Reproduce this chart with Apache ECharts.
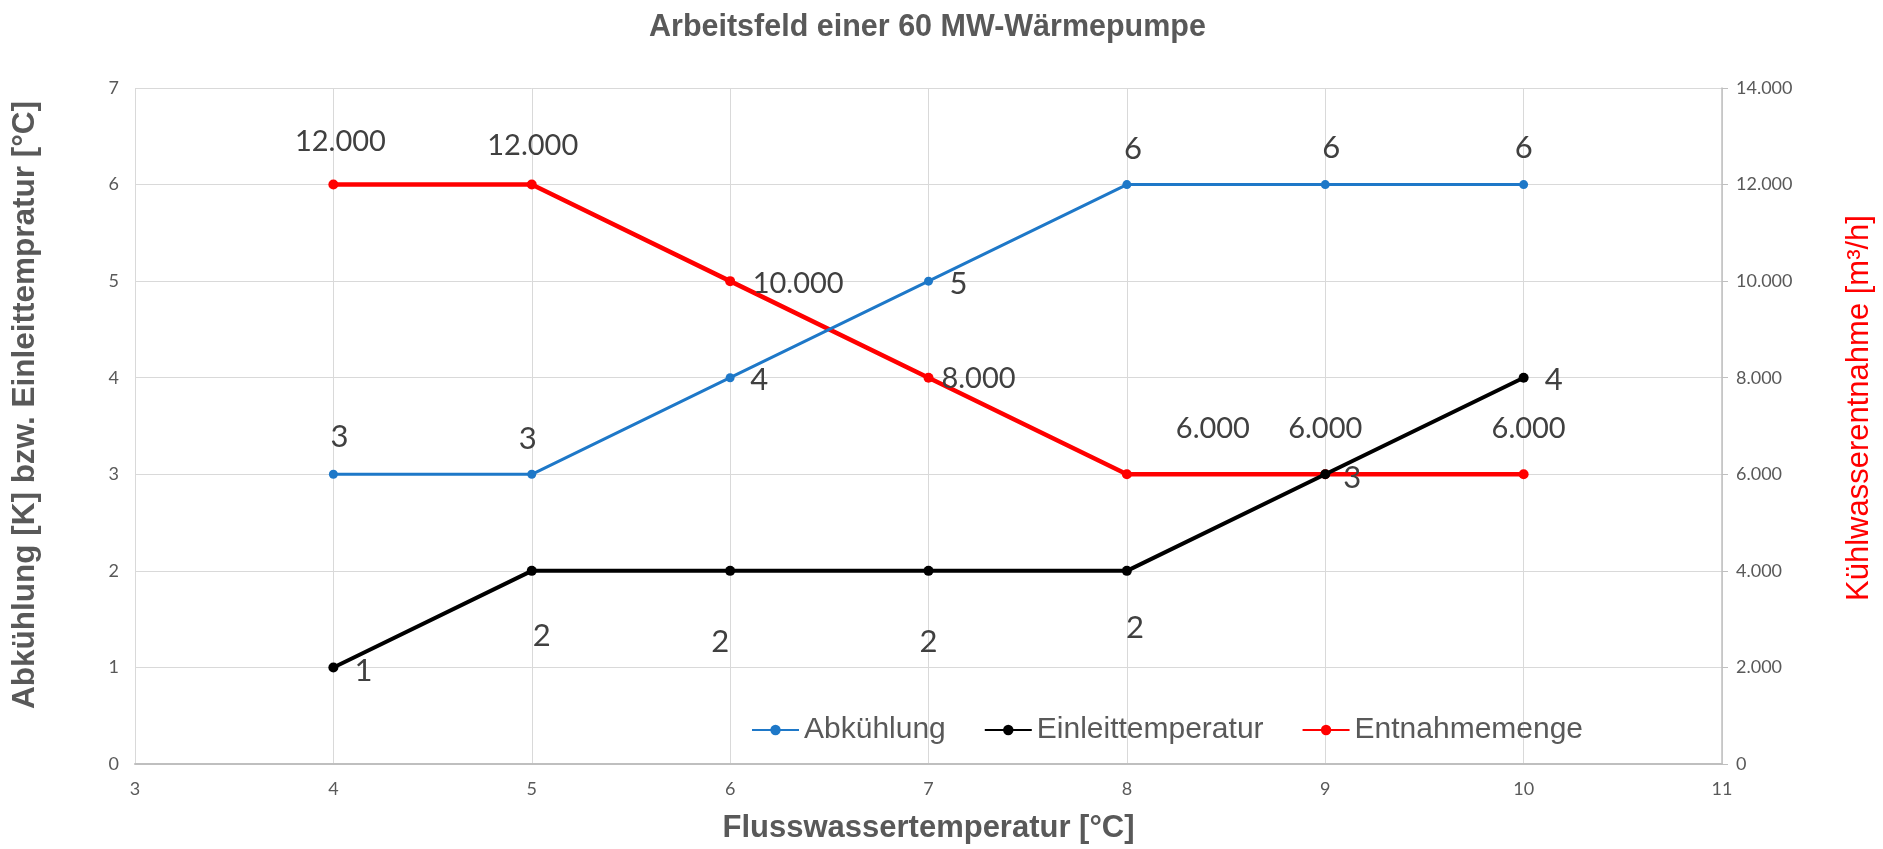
<!DOCTYPE html>
<html>
<head>
<meta charset="utf-8">
<script src="https://cdn.jsdelivr.net/npm/echarts@6/dist/echarts.min.js"></script>
<style>html,body{margin:0;padding:0;background:#fff}#c{width:1883px;height:849px}</style>
</head>
<body>
<div id="c"></div>
<script>
// ---- data ----
const flussTemp = [4, 5, 6, 7, 8, 9, 10];
const abkuehlung = [3, 3, 4, 5, 6, 6, 6];
const einleittemperatur = [1, 2, 2, 2, 2, 3, 4];
const entnahmemenge = [12000, 12000, 10000, 8000, 6000, 6000, 6000];
const seriesNames = ['Abkühlung', 'Einleittemperatur', 'Entnahmemenge'];

// ---- label placement (styling) ----
const offBlue = [[6,-37],[-4,-35],[29,2],[30,3],[6,-36],[6,-37],[0,-37]];
const offBlack = [[30,4],[10,65],[-10,71],[0,71],[8,57],[27,4],[30,2]];
const offRed = [[7,-43],[1,-39],[68,2],[50,1],[86,-46],[0,-46],[5,-46]];

function fmtDE(v){
  return String(v).replace(/\B(?=(\d{3})+(?!\d))/g, '.');
}
function build(ys, offs){
  return flussTemp.map((x, i) => ({
    value: [x, ys[i]],
    label: { offset: offs[i] }
  }));
}
const labelBase = {
  show: true, position: 'inside', fontFamily: 'Lato', fontSize: 31, color: '#404040'
};

const chart = echarts.init(document.getElementById('c'), null, {renderer: 'canvas'});
chart.setOption({
  backgroundColor: '#fff',
  animation: false,
  title: {
    text: 'Arbeitsfeld einer 60 MW-Wärmepumpe',
    left: 644, top: 7,
    textStyle: { fontFamily: 'Liberation Sans', fontWeight: 'bold', fontSize: 30.5, color: '#595959' }
  },
  legend: {
    left: 746, top: 710,
    itemWidth: 47, itemHeight: 13, itemGap: 38,
    textStyle: { fontFamily: 'Liberation Sans', fontSize: 30, color: '#595959' },
    data: seriesNames
  },
  grid: { left: 135, right: 161, top: 88, bottom: 84 },
  xAxis: {
    type: 'value', min: 3, max: 11, interval: 1,
    name: 'Flusswassertemperatur [°C]', nameLocation: 'middle', nameGap: 49,
    nameTextStyle: { fontFamily: 'Liberation Sans', fontWeight: 'bold', fontSize: 31, color: '#595959' },
    axisLine: { show: true, lineStyle: { color: '#bfbfbf', width: 2 } },
    axisTick: { show: false },
    axisLabel: { fontFamily: 'Lato', fontSize: 18, color: '#595959', margin: 16 },
    splitLine: { show: true, lineStyle: { color: '#d9d9d9', width: 1 } }
  },
  yAxis: [
    {
      type: 'value', min: 0, max: 7, interval: 1, position: 'left',
      name: 'Abkühlung [K] bzw. Einleittempratur [°C]', nameLocation: 'middle', nameGap: 94,
      nameTextStyle: { fontFamily: 'Liberation Sans', fontWeight: 'bold', fontSize: 31.5, color: '#595959', padding: [0, 0, 0, 42] },
      axisLine: { show: false }, axisTick: { show: false },
      axisLabel: { fontFamily: 'Lato', fontSize: 18, color: '#595959', margin: 16 },
      splitLine: { show: true, lineStyle: { color: '#d9d9d9', width: 1 } }
    },
    {
      type: 'value', min: 0, max: 14000, interval: 2000, position: 'right',
      name: 'Kühlwasserentnahme [m³/h]', nameLocation: 'middle', nameGap: 122, nameRotate: 90,
      nameTextStyle: { fontFamily: 'Liberation Sans', fontSize: 31, color: '#ff0000', padding: [0, 0, 0, 36] },
      axisLine: { show: true, lineStyle: { color: '#bfbfbf', width: 1.5 } },
      axisTick: { show: true, length: 6, lineStyle: { color: '#bfbfbf' } },
      axisLabel: { fontFamily: 'Lato', fontSize: 18, color: '#595959', margin: 14, formatter: fmtDE },
      splitLine: { show: false }
    }
  ],
  series: [
    {
      name: seriesNames[0], type: 'line', yAxisIndex: 0,
      data: build(abkuehlung, offBlue),
      symbol: 'circle', symbolSize: 9,
      lineStyle: { color: '#1E78C8', width: 3 },
      itemStyle: { color: '#1E78C8' },
      label: Object.assign({}, labelBase),
      z: 3
    },
    {
      name: seriesNames[1], type: 'line', yAxisIndex: 0,
      data: build(einleittemperatur, offBlack),
      symbol: 'circle', symbolSize: 10,
      lineStyle: { color: '#000000', width: 4 },
      itemStyle: { color: '#000000' },
      label: Object.assign({}, labelBase),
      z: 4
    },
    {
      name: seriesNames[2], type: 'line', yAxisIndex: 1,
      data: build(entnahmemenge, offRed),
      symbol: 'circle', symbolSize: 10,
      lineStyle: { color: '#ff0000', width: 4.5 },
      itemStyle: { color: '#ff0000' },
      label: Object.assign({}, labelBase, { fontSize: 29, formatter: p => fmtDE(p.value[1]) }),
      z: 2
    }
  ]
});
</script>
</body>
</html>
